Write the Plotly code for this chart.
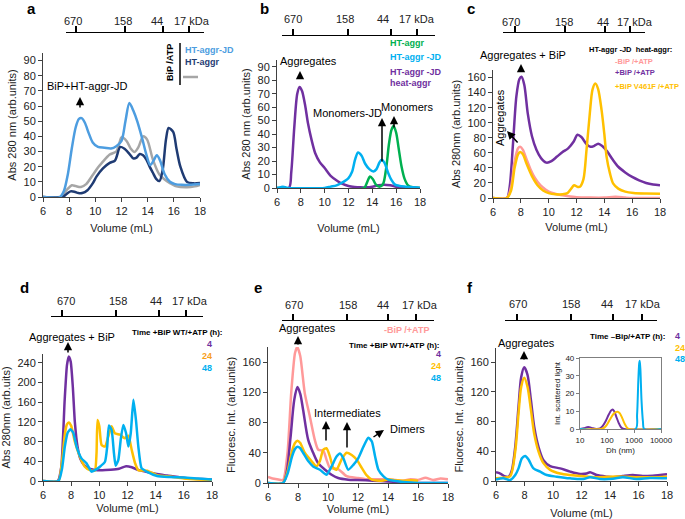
import plotly.graph_objects as go

W, H = 685, 519
FONT = "Liberation Sans"

PURPLE = "#7030a0"
CYAN = "#00b0f0"
GREEN = "#00b050"
PINK = "#ff9999"
GOLD = "#ffc000"
ORANGE = "#f7a01c"
BLUE_A = "#4d9de0"
NAVY = "#1f3b73"
GRAY = "#a6a6a6"

# ---- data -----------------------------------------------------------------
masses = ["670", "158", "44", "17 kDa"]

# a: BiP/ATP with HT-aggr(-JD)
a_x_jd = [6, 7.3, 7.6, 7.9, 8.2, 8.5, 8.75, 8.95, 9.2, 9.5, 9.8, 10.2, 10.7, 11.2, 11.6, 12.0, 12.3,
          12.6, 12.9, 13.2, 13.6, 13.9, 14.2, 14.45, 14.7, 14.95, 15.3, 15.7, 16.1, 16.6, 17.2, 18]
a_y_jd = [0, 0, 4, 15, 32, 46, 51.5, 52, 49, 42, 36, 33, 32.5, 32, 33.5, 37, 50,
          62, 57, 50, 38, 28, 21, 24, 27.5, 24, 15, 10, 8.5, 8, 8, 8.5]
a_x_ht = [6, 7.5, 7.8, 8.1, 8.4, 8.7, 9.0, 9.4, 9.8, 10.1, 10.6, 11.1, 11.5, 11.9, 12.2, 12.6, 12.9,
          13.15, 13.4, 13.65, 13.9, 14.15, 14.4, 14.65, 14.9, 15.15, 15.4, 15.6, 15.95, 16.2, 16.5,
          17.0, 17.5, 18]
a_y_ht = [0, 0, 2, 3.7, 3.5, 2.6, 2.6, 4.5, 9, 13.6, 19, 22.5, 24, 33, 32, 28.5, 25.5,
          26, 28.4, 27.5, 24.7, 20, 16, 12, 10.5, 18, 38, 45.5, 43, 32, 20,
          10, 9, 9.2]
a_x_gray = [6, 7.3, 7.6, 7.9, 8.2, 8.5, 8.9, 9.3, 9.8, 10.2, 10.5, 11.1, 11.6, 11.85, 12.0, 12.4,
            12.7, 13.0, 13.3, 13.65, 13.95, 14.4, 14.9, 15.3, 15.7, 16.2, 17.0, 17.6, 18]
a_y_gray = [0, 0, 2.5, 5.5, 7.7, 7.2, 6.6, 8.5, 14.5, 19.5, 22.5, 28, 30, 36, 39.5, 36.8,
            32, 29.7, 33, 40, 38, 24.7, 14.8, 11.5, 9.2, 7, 6.4, 7, 8]

# b: monomers vs heat aggregates
b_x_ht = [6, 13.3, 13.55, 13.8, 14.05, 14.3, 14.6, 14.9, 15.15, 15.4, 15.6, 15.78, 16.0, 16.2,
          16.45, 16.7, 17.0, 17.4, 18]
b_y_ht = [0, 0, 4, 8.5, 6.5, 2.5, 1, 3, 14, 33, 43, 46, 41, 30, 16, 7, 2, 0.5, 0]
b_x_jd = [6, 6.3, 6.5, 6.8, 7.0, 10.0, 10.5, 11.0, 11.4, 12.0, 12.3, 12.55, 12.8, 13.1, 13.4,
          13.75, 14.1, 14.35, 14.6, 14.78, 15.0, 15.34, 15.6, 15.9, 16.3, 16.8, 17.5, 18]
b_y_jd = [0, 0.5, 1, 0.3, 0, 0, 1, 2, 3.7, 7.4, 12, 21, 26.4, 24, 18, 14, 12.3, 14, 19, 21,
          19, 11, 6, 2.5, 1.5, 1, 0.5, 0]
b_x_heat = [6, 7.0, 7.2, 7.45, 7.7, 7.9, 8.1, 8.35, 8.6, 8.9, 9.2, 9.6, 10.0, 10.5, 11.1, 11.5,
            12.0, 12.5, 13.0, 13.5, 14.0, 14.5, 15.0, 15.5, 16.0, 16.5, 17, 18]
b_y_heat = [0, 0, 12, 45, 70, 75, 72, 62, 48, 35.7, 26, 19, 14.8, 9, 5, 3,
            1.5, 0.8, 0.5, 0.5, 1, 2, 2.5, 2, 1, 0.3, 0, 0]

# c: heat aggregates with BiP / BiP V461F
c_x_nobip = [6, 7.0, 7.3, 7.55, 7.8, 7.95, 8.15, 8.4, 8.7, 9.0, 9.4, 9.8, 10.2, 10.7, 11.2, 12,
             13, 14, 14.8, 15.5, 16, 18]
c_y_nobip = [0, 0, 15, 48, 66, 68, 64, 52, 38, 27, 17, 11, 7, 4.5, 3, 1, 0.5, 0.5, 1.5, 0.5, 0, 0]
c_x_bip = [6, 7.0, 7.2, 7.44, 7.68, 7.9, 8.05, 8.25, 8.5, 8.8, 9.12, 9.45, 9.84, 10.2, 10.6,
           11.0, 11.4, 11.8, 12.07, 12.35, 12.7, 13.0, 13.25, 13.56, 13.85, 14.2, 14.6, 15.0,
           15.5, 16.0, 16.5, 17.0, 17.5, 18]
c_y_bip = [0, 0, 15, 73, 135, 158, 161, 150, 112, 82, 64, 53, 47, 49, 55,
           61, 66, 75, 84, 81, 72, 68, 69, 72, 69, 62, 51, 41.5,
           34, 28, 23.5, 20, 18, 17]
c_x_v461f = [6, 7.0, 7.3, 7.55, 7.8, 7.95, 8.15, 8.4, 8.8, 9.2, 9.6, 10.0, 10.5, 11.0, 11.35,
             11.6, 11.83, 12.05, 12.25, 12.5, 12.72, 12.96, 13.15, 13.35, 13.55, 13.8, 14.0,
             14.16, 14.4, 14.64, 15.0, 15.5, 16.1, 17, 18]
c_y_v461f = [0, 0, 10, 40, 58, 61, 58, 46, 29, 17, 10, 6.5, 5, 5, 6.5,
             12, 17, 15, 15, 25, 64, 113, 144, 152, 145, 117, 85,
             55, 33, 19, 12.5, 8.5, 6.7, 6, 5.8]

# d: time course +BiP WT/+ATP
d_x_4h = [6, 7.05, 7.3, 7.54, 7.7, 7.83, 7.97, 8.12, 8.26, 8.45, 8.65, 8.9, 9.2, 9.6, 10.2, 10.8,
          11.4, 11.9, 12.3, 12.8, 13.4, 14.0, 14.8, 15.6, 16.5, 17.3, 18]
d_y_4h = [0, 0, 29, 165, 235, 253, 242, 190, 120, 70, 45, 33, 26, 23, 22, 23,
          25, 30, 28, 22, 18, 15, 11, 8, 5, 4, 3]
d_x_24h = [6, 7.1, 7.35, 7.55, 7.7, 7.83, 8.0, 8.26, 8.61, 8.97, 9.33, 9.68, 9.8, 9.87, 10.0,
           10.16, 10.4, 10.63, 10.87, 11.1, 11.47, 11.8, 12.06, 12.3, 12.54, 12.77, 13.4, 14.1,
           15, 16, 17, 18]
d_y_24h = [0, 0, 40, 95, 115, 119, 112, 80, 50, 29, 22, 21, 56, 124, 111,
           73, 70, 90, 111, 97, 94, 87, 92, 63, 36, 22, 21, 12,
           9, 5, 3, 2]
d_x_48h = [6, 7.1, 7.35, 7.55, 7.75, 7.95, 8.15, 8.38, 8.73, 9.09, 9.45, 9.68, 10.04, 10.4,
           10.56, 10.68, 10.87, 11.04, 11.16, 11.35, 11.52, 11.7, 11.9, 12.06, 12.23, 12.42,
           12.6, 12.77, 13.0, 13.37, 14.1, 15, 16, 17, 18]
d_y_48h = [0, 0, 25, 70, 98, 105, 98, 70, 46, 36, 19, 22, 29, 39,
           70, 113, 104, 56, 31, 43, 84, 114, 97, 70, 97, 165,
           124, 70, 26, 19, 10, 8, 7, 5, 3]

# e: fluorescence, -BiP and +BiP time course
e_x_nobip = [6, 6.3, 6.6, 7.0, 7.3, 7.55, 7.8, 7.95, 8.15, 8.45, 8.79, 9.12, 9.35, 9.68, 9.9,
             10.13, 10.68, 11.24, 12.0, 12.5, 13, 13.5, 14, 14.5, 15, 15.5, 16, 16.5, 17,
             17.5, 18]
e_y_nobip = [8, 6, 5, 4, 40, 120, 172, 180, 168, 119, 88, 57, 44, 43, 31,
             20, 18.5, 9, 6.6, 5, 5, 5, 5, 4, 3, 5, 4, 7, 4,
             6, 5]
e_x_4h = [6, 7.0, 7.25, 7.5, 7.75, 7.96, 8.15, 8.34, 8.68, 9.01, 9.35, 9.8, 10.24, 10.68, 11.35,
          12, 13, 14, 15, 16, 18]
e_y_4h = [0, 0, 15, 60, 110, 127, 118, 97, 57, 40, 26, 17.6, 11, 6.6, 4.4,
          4, 3, 2, 1, 0, 0]
e_x_24h = [6, 7.0, 7.3, 7.6, 7.8, 7.96, 8.15, 8.45, 8.9, 9.23, 9.46, 9.68, 9.9, 10.13, 10.35,
           10.57, 10.9, 11.24, 11.58, 11.91, 12.25, 12.58, 12.92, 13.6, 14.03, 14.5, 15.0, 15.6,
           16.0]
e_y_24h = [0, 0, 15, 42, 53, 56, 53, 40, 29, 22, 29, 44, 46, 35, 20,
           17.6, 31, 40, 37, 31, 20, 10, 4.4, 3, 5, 3.5, 3, 3.5,
           3]
e_x_48h = [6, 7.0, 7.3, 7.6, 7.8, 7.96, 8.15, 8.34, 8.68, 9.01, 9.46, 9.9, 10.24, 10.57, 10.8,
           11.02, 11.35, 11.69, 12.02, 12.36, 12.69, 12.92, 13.14, 13.36, 13.7, 14.03, 15, 16, 18]
e_y_48h = [0, 0, 12, 35, 45, 48, 46, 40, 29, 22, 17.6, 11, 22, 35, 39,
           33, 17.6, 24, 33, 48, 60, 55, 35, 17.6, 8.8, 4.4, 1.3, 0, 0]

# f: fluorescence, -BiP/+ATP time course
f_x_4h = [6, 6.3, 6.65, 6.9, 7.12, 7.35, 7.58, 7.77, 7.98, 8.21, 8.45, 8.68, 8.98, 9.33, 9.8,
          10.5, 11.2, 11.9, 12.36, 12.6, 13.06, 13.76, 14.2, 14.9, 15.6, 16.3, 17, 18]
f_y_4h = [11.7, 10, 6, 6, 15, 46, 100, 140, 153, 143, 109, 73, 46, 28, 20,
          17, 12.6, 9.4, 10, 11.7, 8, 5.8, 5, 6.7, 8, 6.7, 7.2, 9]
f_x_24h = [6, 6.5, 7.0, 7.35, 7.58, 7.77, 7.98, 8.21, 8.45, 8.68, 8.98, 9.33, 9.8, 10.5, 11.2,
           12, 13, 14, 15, 16, 17, 18]
f_y_24h = [3.6, 4.5, 6.7, 40, 91, 127, 139, 127, 96, 64, 40, 24, 15, 10, 8,
           6.7, 5, 5.8, 5.8, 5, 5, 5.8]
f_x_48h = [6, 6.5, 7.0, 7.35, 7.58, 7.82, 8.05, 8.28, 8.63, 9.1, 9.56, 10.26, 11.2, 12.13, 12.6,
           13.3, 14.2, 14.9, 15.85, 16.8, 18]
f_y_48h = [2, 3.6, 1.3, 8, 17, 30.6, 33.7, 29, 17, 12.6, 8, 5.8, 3.6, 2.7, 5,
           2.7, 3, 5, 2.7, 4, 3.6]

# f inset: DLS size distribution
dls_x_4h = [10, 14, 17, 20, 24, 30, 40, 55, 70, 90, 115, 140, 160, 185, 220, 270, 330, 425, 10000]
dls_y_4h = [0, 0.4, 0.9, 1.1, 0.9, 0.4, 0, 0.3, 1.8, 4.5, 8, 10.3, 11, 10, 7, 3.5, 1, 0, 0]
dls_x_24h = [10, 60, 80, 100, 130, 170, 210, 250, 300, 370, 450, 550, 650, 10000]
dls_y_24h = [0, 0, 0.8, 2.5, 5.5, 8.3, 9.5, 9.7, 8.8, 6, 3, 0.8, 0, 0]
dls_x_48h = [10, 1150, 1300, 1450, 1560, 1630, 1720, 1900, 2150, 2370, 10000]
dls_y_48h = [0, 0, 8, 28, 37, 38.5, 34, 16, 4, 0, 0]


# ---- layout helpers ---------------------------------------------------------
def px(x):
    return x / W


def py(y):
    return 1 - y / H


def ax_id(i):
    return "" if i == 1 else str(i)


# panel: plot box (left, right, top, bottom px), y max/step/title, x-title standoff,
# marker bar (x0, x1, line y, tick fractions), mass label x centres and label y
panels = [
    dict(box=(43, 200, 53, 197), ymax=95, dy=10, title="Abs 280 nm (arb.units)", xs=8,
         bar=(66, 204, 33, [0.072, 0.428, 0.703, 0.891]), lab=([73, 123, 157, 192], 21)),
    dict(box=(277, 420, 60, 188), ymax=95, dy=10, title="Abs 280 nm (arb.units)", xs=17,
         bar=(282, 435, 36, [0.072, 0.431, 0.712, 0.882]), lab=([293, 345, 383, 417], 19)),
    dict(box=(493, 660, 70, 198), ymax=170, dy=20, title="Abs 280nm (arb.units)", xs=6,
         bar=(503, 645, 33, [0.085, 0.437, 0.718, 0.894]), lab=([511, 564, 603, 635], 22)),
    dict(box=(43, 212, 354, 481), ymax=258, dy=40, title="Abs 280nm (arb.uits)", xs=4,
         bar=(51, 203, 317, [0.072, 0.428, 0.711, 0.888]), lab=([66, 118, 156, 190], 301)),
    dict(box=(268, 448, 347, 483), ymax=180, dy=40, title="Fluoresc. Int. (arb.units)", xs=3,
         bar=(282, 434, 321, [0.072, 0.428, 0.697, 0.882]), lab=([294, 348, 383, 420], 305)),
    dict(box=(496, 667, 348, 481), ymax=179, dy=40, title="Fluoresc. Int. (arb.units)", xs=9,
         bar=(505, 657, 321, [0.079, 0.434, 0.711, 0.901]), lab=([518, 571, 607, 643], 304)),
]

fig = go.Figure()


def add_curve(i, x, y, color, width=2.5, smooth=0.8):
    fig.add_trace(
        go.Scatter(
            x=x, y=y, mode="lines",
            line=dict(color=color, width=width, shape="spline", smoothing=smooth),
            xaxis="x" + ax_id(i), yaxis="y" + ax_id(i),
            showlegend=False, hoverinfo="skip",
        )
    )


add_curve(1, a_x_gray, a_y_gray, GRAY)
add_curve(1, a_x_ht, a_y_ht, NAVY)
add_curve(1, a_x_jd, a_y_jd, BLUE_A)

add_curve(2, b_x_heat, b_y_heat, PURPLE)
add_curve(2, b_x_ht, b_y_ht, GREEN)
add_curve(2, b_x_jd, b_y_jd, CYAN)

add_curve(3, c_x_bip, c_y_bip, PURPLE)
add_curve(3, c_x_nobip, c_y_nobip, PINK)
add_curve(3, c_x_v461f, c_y_v461f, GOLD)

add_curve(4, d_x_4h, d_y_4h, PURPLE, smooth=0.5)
add_curve(4, d_x_24h, d_y_24h, GOLD, smooth=0.5)
add_curve(4, d_x_48h, d_y_48h, CYAN, smooth=0.5)

add_curve(5, e_x_nobip, e_y_nobip, PINK, smooth=0.6)
add_curve(5, e_x_4h, e_y_4h, PURPLE)
add_curve(5, e_x_24h, e_y_24h, GOLD, smooth=0.6)
add_curve(5, e_x_48h, e_y_48h, CYAN, smooth=0.6)

add_curve(6, f_x_4h, f_y_4h, PURPLE)
add_curve(6, f_x_24h, f_y_24h, GOLD)
add_curve(6, f_x_48h, f_y_48h, CYAN)

add_curve(7, dls_x_4h, dls_y_4h, PURPLE, width=2)
add_curve(7, dls_x_24h, dls_y_24h, GOLD, width=2)
add_curve(7, dls_x_48h, dls_y_48h, CYAN, width=2)

annotations = []


def text(x, y, s, size=11, color="black", bold=False, xanchor="center", angle=0):
    annotations.append(dict(
        x=px(x), y=py(y), xref="paper", yref="paper", text=f"<b>{s}</b>" if bold else s,
        showarrow=False, xanchor=xanchor, yanchor="middle", textangle=angle,
        font=dict(size=size, color=color, family=FONT),
    ))


def arrow(hx, hy, tx, ty):
    annotations.append(dict(
        x=px(hx), y=py(hy), xref="paper", yref="paper", text="", showarrow=True,
        ax=tx - hx, ay=ty - hy, arrowhead=2, arrowsize=1.1, arrowwidth=1.5,
        arrowcolor="black",
    ))


layout = {}
axis_color = "#404040"
for n, p in enumerate(panels, start=1):
    l, r, t, b = p["box"]
    k = ax_id(n)
    layout["xaxis" + k] = dict(
        domain=[px(l), px(r)], anchor="y" + k, range=[6, 18], tick0=6, dtick=2,
        showline=True, linecolor=axis_color, linewidth=1, ticks="outside", ticklen=4,
        tickcolor=axis_color, showgrid=False, zeroline=False, automargin=False,
        tickfont=dict(size=11, color="#222"),
        title=dict(text="Volume (mL)", font=dict(size=11, color="#222"), standoff=p["xs"]),
    )
    layout["yaxis" + k] = dict(
        domain=[py(b), py(t)], anchor="x" + k, range=[0, p["ymax"]], tick0=0, dtick=p["dy"],
        showline=True, linecolor=axis_color, linewidth=1, ticks="outside", ticklen=4,
        tickcolor=axis_color, showgrid=False, zeroline=False, automargin=False,
        tickfont=dict(size=11, color="#222"),
        title=dict(text=p["title"], font=dict(size=11, color="#222"), standoff=4),
    )
    # molecular-mass marker bar above the panel
    x0, x1, ly, fr = p["bar"]
    m = str(n + 7)
    layout["xaxis" + m] = dict(
        domain=[px(x0), px(x1)], anchor="y" + m, side="top", range=[0, 1],
        tickvals=fr, showticklabels=False, ticks="outside", ticklen=6, tickwidth=1.5,
        tickcolor="black", showline=True, linecolor="black", linewidth=1.2, automargin=False,
        showgrid=False, zeroline=False,
    )
    layout["yaxis" + m] = dict(domain=[py(ly) - 0.004, py(ly)], range=[0, 1], visible=False)
    fig.add_trace(
        go.Scatter(x=fr, y=[0] * len(fr), mode="markers", marker=dict(opacity=0),
                   xaxis="x" + m, yaxis="y" + m, showlegend=False, hoverinfo="skip")
    )
    lx, lyy = p["lab"]
    for xx, s in zip(lx, masses):
        text(xx, lyy, s, size=11, color="#222")

# inset in f
layout["xaxis7"] = dict(
    domain=[px(580), px(661)], anchor="y7", type="log", range=[1, 4],
    tickvals=[10, 100, 1000, 10000], ticktext=["10", "100", "1000", "10000"], tickangle=0,
    showline=True, mirror=True, linecolor="#7f7f7f", linewidth=1.2, ticks="outside",
    ticklen=3, tickcolor="#7f7f7f", showgrid=False, zeroline=False, automargin=False,
    tickfont=dict(size=8, color="#222"),
    title=dict(text="Dh (nm)", font=dict(size=8, color="#222"), standoff=3),
)
layout["yaxis7"] = dict(
    domain=[py(429), py(358)], anchor="x7", range=[0, 40], dtick=10,
    showline=True, mirror=True, linecolor="#7f7f7f", linewidth=1.2, ticks="outside",
    ticklen=3, tickcolor="#7f7f7f", showgrid=False, zeroline=False, automargin=False,
    tickfont=dict(size=8, color="#222"),
    title=dict(text="Int. scattered light", font=dict(size=8, color="#222"), standoff=3),
)

for letter, lx, ly in [("a", 32, 8), ("b", 264, 8), ("c", 471, 8),
                       ("d", 25, 287), ("e", 258, 287), ("f", 470, 287)]:
    text(lx, ly, letter, size=15, bold=True)

# a
text(87, 86, "BiP+HT-aggr-JD")
arrow(80, 97, 80, 109)
text(170, 63, "BiP /ATP", size=9, bold=True, angle=-90)
text(183, 50, "HT-aggr-JD", size=9, color=BLUE_A, bold=True, xanchor="left")
text(183, 62, "HT-aggr", size=9, color=NAVY, bold=True, xanchor="left")

# b
text(388, 43, "HT-aggr", size=9, color=GREEN, bold=True, xanchor="left")
text(388, 57, "HT-aggr -JD", size=9, color=CYAN, bold=True, xanchor="left")
text(388, 72, "HT-aggr -JD", size=9, color=PURPLE, bold=True, xanchor="left")
text(388, 83, "heat-aggr", size=9, color=PURPLE, bold=True, xanchor="left")
text(308, 61, "Aggregates")
arrow(300, 71, 300, 80)
text(407, 107, "Monomers")
arrow(394, 116, 394, 129)
text(348, 113, "Monomers-JD")
arrow(382, 118, 382, 163)

# c
text(630, 50, "HT-aggr -JD  heat-aggr:", size=7.5, bold=True)
text(613, 62, "-BiP /+ATP", size=7.5, color=PINK, bold=True, xanchor="left")
text(613, 73, "+BiP /+ATP", size=7.5, color=PURPLE, bold=True, xanchor="left")
text(613, 87, "+BiP V461F /+ATP", size=7.5, color=GOLD, bold=True, xanchor="left")
text(523, 55, "Aggregates + BiP")
arrow(521, 64, 521, 73)
text(500, 118, "Aggregates", angle=-90)
arrow(507, 131, 519, 144)

# d
text(177, 332, "Time +BiP WT/+ATP (h):", size=8, bold=True)
text(214, 344, "4", size=9, color=PURPLE, bold=True, xanchor="right")
text(214, 356, "24", size=9, color=ORANGE, bold=True, xanchor="right")
text(214, 368, "48", size=9, color=CYAN, bold=True, xanchor="right")
text(72, 337, "Aggregates + BiP")
arrow(68, 342, 68, 354)

# e
text(406, 330, "-BiP /+ATP", size=9, color=PINK, bold=True)
text(394, 345, "Time +BiP WT/+ATP (h):", size=8, bold=True)
text(443, 354, "4", size=9, color=PURPLE, bold=True, xanchor="right")
text(443, 366, "24", size=9, color=GOLD, bold=True, xanchor="right")
text(443, 378, "48", size=9, color=CYAN, bold=True, xanchor="right")
text(307, 328, "Aggregates")
arrow(298, 336, 298, 346)
text(348, 413, "Intermediates")
arrow(326, 421, 326, 442)
arrow(347, 422, 347, 449)
text(407, 429, "Dimers")
arrow(384, 430, 372, 438)

# f
text(627, 336, "Time \u2013Bip/+ATP (h):", size=8, bold=True)
text(673, 336, "4", size=9, color=PURPLE, bold=True, xanchor="left")
text(673, 348, "24", size=9, color=GOLD, bold=True, xanchor="left")
text(673, 359, "48", size=9, color=CYAN, bold=True, xanchor="left")
text(526, 343, "Aggregates")
arrow(524, 351, 524, 361)

shapes = [
    dict(type="line", xref="paper", yref="paper", x0=px(180), x1=px(180), y0=py(43), y1=py(85),
         line=dict(color="black", width=1.5)),
    dict(type="line", xref="paper", yref="paper", x0=px(183), x1=px(198), y0=py(77), y1=py(77),
         line=dict(color=GRAY, width=2.5)),
]

fig.update_layout(
    width=W, height=H,
    margin=dict(l=0, r=0, t=0, b=0, autoexpand=False),
    paper_bgcolor="white", plot_bgcolor="white",
    font=dict(family=FONT, size=11, color="#222"),
    showlegend=False,
    annotations=annotations,
    shapes=shapes,
    **layout,
)

fig.write_html(
    "out.html",
    config={"displayModeBar": False},
    post_script="document.body.style.margin='0px';",
)
